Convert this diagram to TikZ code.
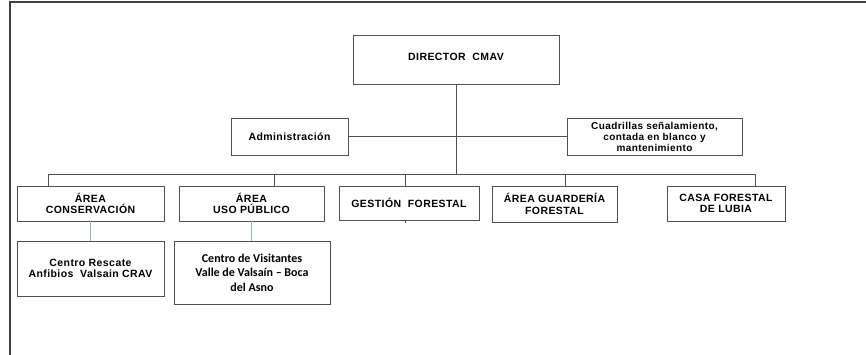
\documentclass[tikz,border=0pt]{standalone}
\usepackage{fontspec}
\setmainfont{Liberation Sans}[LetterSpace=4]
\newfontfamily\calib{Carlito}
\definecolor{framegray}{RGB}{64,64,64}
\definecolor{boxgray}{RGB}{80,80,80}
\definecolor{linkblue}{RGB}{140,180,215}
\begin{document}
\begin{tikzpicture}[x=1pt,y=-1pt]
            \tikzset{box/.style={draw=boxgray, line width=0.9pt, inner sep=0pt, align=center, font=\fontsize{10.5}{11.5}\selectfont\bfseries},
                     link/.style={draw=boxgray, line width=0.9pt}}
            \useasboundingbox (0,0) rectangle (866,355);
            \draw [framegray, line width=2pt] (10,355) -- (10,2) -- (866,2);
            \node [box, minimum width=206pt, minimum height=49pt] (dir) at (456,59.5) {\raisebox{5.5pt}{DIRECTOR\ \ CMAV}};
            \node [box, minimum width=117pt, minimum height=37pt] (adm) at (289.5,136.5) {Administración};
            \node [box, minimum width=175pt, minimum height=37pt, font=\fontsize{10}{11}\selectfont\bfseries] (cuad) at (654.5,136.5) {Cuadrillas señalamiento,\\contada en blanco y\\mantenimiento};
            \node [box, minimum width=147pt, minimum height=35pt] (cons) at (90.5,203.5) {ÁREA\\CONSERVACIÓN};
            \node [box, minimum width=145pt, minimum height=35pt] (uso) at (251.5,203.5) {ÁREA\\USO PÚBLICO};
            \node [box, minimum width=140pt, minimum height=34pt] (gest) at (409,203) {GESTIÓN\ \ FORESTAL};
            \node [box, minimum width=125pt, minimum height=36pt] (guard) at (554.5,204) {ÁREA GUARDERÍA\\FORESTAL};
            \node [box, minimum width=118pt, minimum height=35pt] (casa) at (726,203.5) {CASA FORESTAL\\DE LUBIA};
            \node [box, minimum width=147pt, minimum height=55pt] (resc) at (90.5,268.5) {Centro Rescate\\Anfibios\ \ Valsain CRAV};
            \node [box, minimum width=156pt, minimum height=63pt, font=\calib\fontsize{12}{14.5}\selectfont\bfseries] (visit) at (252,272.5) {Centro de Visitantes\\Valle de Valsaín – Boca\\del Asno};
            \coordinate (busL) at (48,174);
            \coordinate (busR) at (755,174);
            \coordinate (tUso) at (274,174);
            \coordinate (tGest) at (405,174);
            \coordinate (tGuard) at (565,174);
            \draw [link] (dir.south) -- (dir.south |- busL);
            \draw [link] (adm) -- (cuad);
            \draw [link] (busL) -- (busR);
            \draw [link] (busL) -- (busL |- cons.north);
            \draw [link] (tUso) -- (tUso |- uso.north);
            \draw [link] (tGest) -- (tGest |- gest.north);
            \draw [link] (tGuard) -- (tGuard |- guard.north);
            \draw [link] (busR) -- (busR |- casa.north);
            \draw [link] (tGest |- gest.south) -- ++(0,3);
            \draw [linkblue, line width=0.9pt] (cons) -- (resc);
            \draw [linkblue, line width=0.9pt] (uso.south) -- (uso.south |- visit.north);
        \end{tikzpicture}
\end{document}
